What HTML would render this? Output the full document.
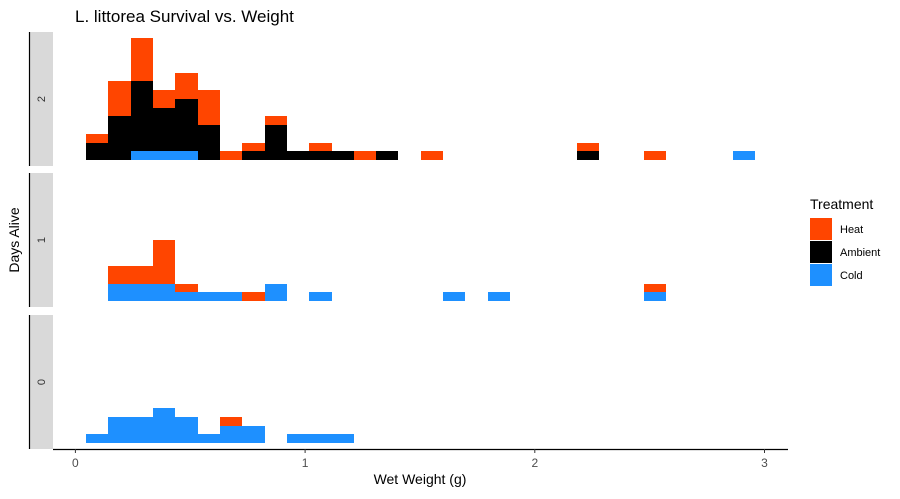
<!DOCTYPE html>
<html><head><meta charset="utf-8"><style>
body{margin:0;background:#fff;font-family:"Liberation Sans",Arial,sans-serif}
svg text{font-family:"Liberation Sans",Arial,sans-serif}
</style></head><body>
<svg id="c" width="900" height="494">
<text x="75" y="22" font-size="17" fill="#000">L. littorea Survival vs. Weight</text>
<text transform="translate(19,240) rotate(-90)" text-anchor="middle" font-size="14">Days Alive</text>
<text x="420" y="484" text-anchor="middle" font-size="14">Wet Weight (g)</text>
<g id="legend">
<text x="810" y="209" font-size="14">Treatment</text>
</g>
</svg>
<script>
const facets=["2","1","0"];
const treatments=["Cold","Ambient","Heat"];
const colors={Cold:"#1E90FF",Ambient:"#000000",Heat:"#FF4500"};
const binStart=0.047, binWidth=0.0971;
// counts by bin index per facet per treatment
const d2Cold={3:1,4:1,2:1,29:1};
const d2Ambient={0:2,1:5,2:8,3:5,4:6,5:4,7:1,8:4,9:1,10:1,11:1,13:1,22:1};
const d2Heat={0:1,1:4,2:5,3:2,4:3,5:4,6:1,7:1,8:1,10:1,12:1,15:1,22:1,25:1};
const d1Cold={1:2,2:2,3:2,4:1,5:1,6:1,8:2,10:1,16:1,18:1,25:1};
const d1Ambient={};
const d1Heat={1:2,2:2,3:5,4:1,7:1,25:1};
const d0Cold={0:1,1:3,2:3,3:4,4:3,5:1,6:2,7:2,9:1,10:1,11:1};
const d0Ambient={};
const d0Heat={6:1};
const data={"2":{Cold:d2Cold,Ambient:d2Ambient,Heat:d2Heat},"1":{Cold:d1Cold,Ambient:d1Ambient,Heat:d1Heat},"0":{Cold:d0Cold,Ambient:d0Ambient,Heat:d0Heat}};
const xTicks=[0,1,2,3];
const legendOrder=["Heat","Ambient","Cold"];

const svg=document.getElementById('c');
const NS="http://www.w3.org/2000/svg";
function mk(t,a){const e=document.createElementNS(NS,t);for(const k in a)e.setAttribute(k,a[k]);return e;}
const X0=75.4, XS=229.7;
const xs=v=>X0+v*XS;
const unit=8.73;
const panelTops=[32,173,315], panelH=134, pad=6;
facets.forEach((f,i)=>{
  const top=panelTops[i], base=top+panelH-pad;
  const strip=mk('rect',{x:29,y:top,width:24,height:panelH,fill:'#d9d9d9'});
  
  
  svg.appendChild(strip);
  const ln=mk('line',{x1:29.5,y1:top,x2:29.5,y2:top+panelH,stroke:'#000','stroke-width':1.2});
  
  
  svg.appendChild(ln);
  const lt=mk('text',{transform:`translate(45,${top+panelH/2}) rotate(-90)`,'text-anchor':'middle','font-size':11,fill:'#333'});
  lt.textContent=f;
  
  
  svg.appendChild(lt);
  const stack={};
  treatments.forEach(t=>{
    const c=data[f][t];
    for(const b in c){
      const n=c[b]; if(!n)continue;
      const s=stack[b]||0;
      const x1=Math.round(xs(binStart+b*binWidth)), x2=Math.round(xs(binStart+(+b+1)*binWidth));
      const y1=Math.round(base-(s+n)*unit), y2=Math.round(base-s*unit);
      const r=mk('rect',{x:x1,y:y1,width:x2-x1,height:y2-y1,fill:colors[t],'shape-rendering':'crispEdges'});
      
      
      svg.appendChild(r);
      stack[b]=s+n;
    }
  });
});
const ax=mk('line',{x1:53,y1:449.5,x2:788,y2:449.5,stroke:'#000','stroke-width':1.2});


svg.appendChild(ax);
xTicks.forEach(v=>{
  const tk=mk('line',{x1:xs(v),y1:449,x2:xs(v),y2:453,stroke:'#333'});
  
  
  svg.appendChild(tk);
  const tl=mk('text',{x:xs(v),y:467,'text-anchor':'middle','font-size':12,fill:'#4d4d4d'});
  tl.textContent=v;
  
  
  svg.appendChild(tl);
});
const lg=document.getElementById('legend');
legendOrder.forEach((t,i)=>{
  const y=218+i*23;
  const k=mk('rect',{x:810,y:y,width:22,height:22,fill:colors[t]});
  
  
  lg.appendChild(k);
  const tx=mk('text',{x:840,y:y+15,'font-size':11,fill:'#000'});
  tx.textContent=t;
  
  
  lg.appendChild(tx);
});
</script>
</body></html>
